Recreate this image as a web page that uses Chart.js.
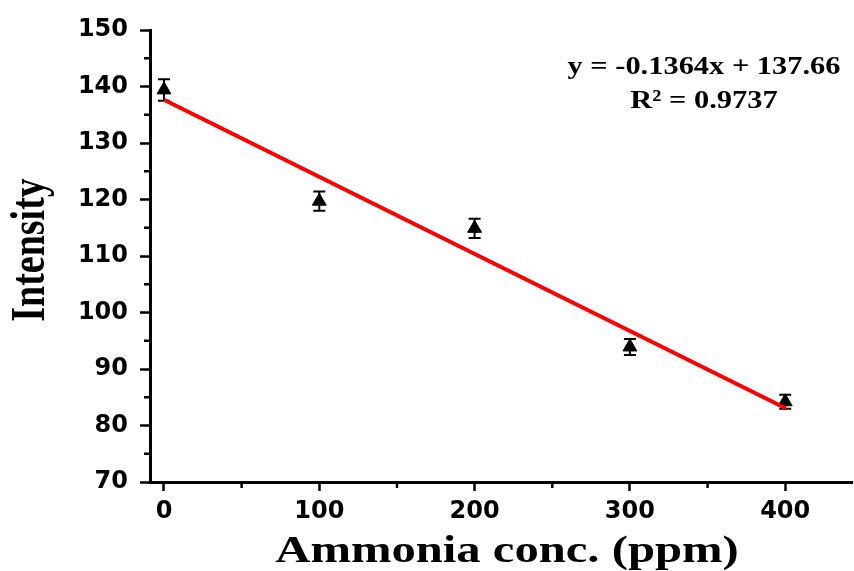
<!DOCTYPE html>
<html>
<head>
<meta charset="utf-8">
<script src="https://cdn.jsdelivr.net/npm/chart.js@4.4.1/dist/chart.umd.min.js"></script>
<style>
  html, body { margin: 0; padding: 0; background: #fff; }
  #wrap { width: 854px; height: 571px; }
</style>
</head>
<body>
<div id="wrap"><canvas id="calChart" width="854" height="571"></canvas></div>
<script>
// measured points (ammonia conc. vs intensity) with error bars
var concData = [0, 100, 200, 300, 400];
var intensityData = [139.4, 119.7, 114.9, 93.9, 84.2];
var errData = [1.9, 1.7, 1.7, 1.4, 1.25];

// linear fit end points
var fitX = [0, 400];
var fitY = [137.66, 83.10];

// axis ticks
var yMinorTicks = [75, 85, 95, 105, 115, 125, 135, 145];
var xMinorTicks = [50, 150, 250, 350];

var eqLine1 = 'y = -0.1364x + 137.66';
var eqLine2 = 'R\u00B2 = 0.9737';
var xTitle = 'Ammonia conc. (ppm)';
var yTitle = 'Intensity';

var points = concData.map(function (x, i) { return { x: x, y: intensityData[i] }; });
var fitPoints = fitX.map(function (x, i) { return { x: x, y: fitY[i] }; });

function stretchText(c, text, x, y, sx, font) {
  c.save();
  c.translate(x, y);
  c.scale(sx, 1);
  c.font = font;
  c.textAlign = 'center';
  c.textBaseline = 'alphabetic';
  c.fillStyle = '#000';
  c.fillText(text, 0, 0);
  c.restore();
}

// error bars, drawn under the fit line
var errorBars = {
  id: 'errorBars',
  beforeDatasetsDraw: function (chart) {
    var c = chart.ctx, xs = chart.scales.x, ys = chart.scales.y;
    c.save();
    c.strokeStyle = '#000';
    c.lineWidth = 2;
    for (var i = 0; i < concData.length; i++) {
      var px = xs.getPixelForValue(concData[i]);
      var top = ys.getPixelForValue(intensityData[i] + errData[i]);
      var bot = ys.getPixelForValue(intensityData[i] - errData[i]);
      c.beginPath();
      c.moveTo(px, top); c.lineTo(px, bot);
      c.moveTo(px - 6, top); c.lineTo(px + 6, top);
      c.moveTo(px - 6, bot); c.lineTo(px + 6, bot);
      c.stroke();
    }
    c.restore();
  }
};

// minor ticks + titles + equation
var decorations = {
  id: 'decorations',
  afterDraw: function (chart) {
    var c = chart.ctx, xs = chart.scales.x, ys = chart.scales.y;
    var area = chart.chartArea;
    c.save();
    c.strokeStyle = '#000';
    c.lineWidth = 2.5;
    c.beginPath();
    yMinorTicks.forEach(function (v) {
      var py = ys.getPixelForValue(v);
      c.moveTo(area.left, py); c.lineTo(area.left - 6, py);
    });
    xMinorTicks.forEach(function (v) {
      var px = xs.getPixelForValue(v);
      c.moveTo(px, area.bottom); c.lineTo(px, area.bottom + 6);
    });
    c.stroke();
    c.restore();

    stretchText(c, xTitle, 507, 562, 1.28, 'bold 38px "Liberation Serif"');

    c.save();
    c.translate(44, 250);
    c.scale(1.25, 1);
    c.rotate(-Math.PI / 2);
    c.font = 'bold 38px "Liberation Serif"';
    c.textAlign = 'center';
    c.textBaseline = 'alphabetic';
    c.fillStyle = '#000';
    c.fillText(yTitle, 0, 0);
    c.restore();

    stretchText(c, eqLine1, 704, 74, 1.17, 'bold 26px "Liberation Serif"');
    stretchText(c, eqLine2, 704, 108, 1.17, 'bold 26px "Liberation Serif"');
  }
};

var ctx = document.getElementById('calChart').getContext('2d');
var calChart = new Chart(ctx, {
  type: 'scatter',
  data: {
    datasets: [{
      label: 'Fit',
      data: fitPoints,
      showLine: true,
      borderColor: '#ff0000',
      borderWidth: 4,
      pointRadius: 0,
      fill: false
    }, {
      label: 'Intensity',
      data: points,
      pointStyle: 'triangle',
      pointRadius: 8,
      backgroundColor: '#000',
      borderColor: '#000',
      borderWidth: 1
    }]
  },
  options: {
    responsive: false,
    animation: false,
    layout: { autoPadding: false, padding: { top: 30, right: 2, left: 0, bottom: 0 } },
    plugins: {
      legend: { display: false },
      tooltip: { enabled: false }
    },
    scales: {
      x: {
        type: 'linear',
        min: -9, max: 443,
        afterFit: function (s) { s.height = 89; s.paddingLeft = 0; s.paddingRight = 0; },
        border: { display: true, color: '#000', width: 3 },
        grid: { display: true, drawOnChartArea: false, drawTicks: true, tickLength: 9, tickWidth: 2.5, tickColor: '#000' },
        ticks: {
          stepSize: 100, includeBounds: false, padding: 6, color: '#000',
          maxRotation: 0,
          font: { family: '"DejaVu Sans"', weight: 'bold', size: 24 }
        }
      },
      y: {
        min: 70, max: 150,
        afterFit: function (s) { s.width = 150; s.paddingTop = 0; s.paddingBottom = 0; },
        border: { display: true, color: '#000', width: 3 },
        grid: { display: true, drawOnChartArea: false, drawTicks: true, tickLength: 10, tickWidth: 2.5, tickColor: '#000' },
        ticks: {
          stepSize: 10, padding: 12, color: '#000',
          font: { family: '"DejaVu Sans"', weight: 'bold', size: 24 }
        }
      }
    }
  },
  plugins: [errorBars, decorations]
});
</script>
</body>
</html>
